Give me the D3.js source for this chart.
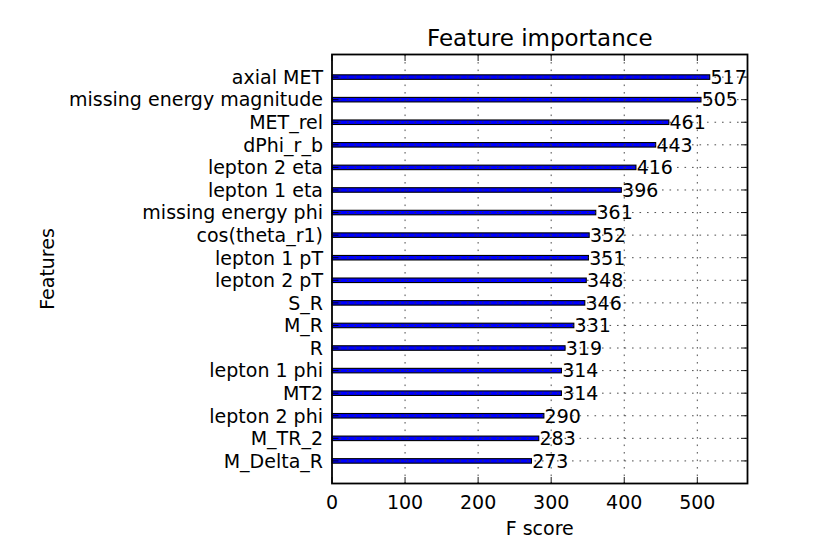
<!DOCTYPE html>
<html><head><meta charset="utf-8">
<script src="https://d3js.org/d3.v7.min.js"></script>
<style>body{margin:0;background:#fff;} text{font-family:"DejaVu Sans",sans-serif;fill:#000;}</style>
</head><body><svg id="c" width="830" height="554"></svg>
<script>
const features = ["axial MET","missing energy magnitude","MET_rel","dPhi_r_b","lepton 2 eta","lepton 1 eta","missing energy phi","cos(theta_r1)","lepton 1 pT","lepton 2 pT","S_R","M_R","R","lepton 1 phi","MT2","lepton 2 phi","M_TR_2","M_Delta_R"];
const scores = [517,505,461,443,416,396,361,352,351,348,346,331,319,314,314,290,283,273];
const xTicks = [0,100,200,300,400,500];
const title = "Feature importance";
const xLabel = "F score";
const yLabel = "Features";

const svg = d3.select("#c");
const L = 332, R = 747.5, T = 54.5, B = 483.5;
const n = features.length;
const x = d3.scaleLinear().domain([0, d3.max(scores) * 1.1]).range([L, R]);
const y = d3.scaleLinear().domain([-1, n]).range([B, T]);
const yi = i => y(n - 1 - i);
const fs = 19;

// bars
const bh = y(0) - y(0.2);
svg.append("g").selectAll("rect").data(scores).join("rect")
  .attr("x", x(0)).attr("y", (d, i) => yi(i) - bh / 2)
  .attr("width", d => x(d) - x(0)).attr("height", bh)
  .attr("fill", "#0000ff").attr("stroke", "#000").attr("stroke-width", 1.1);

// grid
const grid = svg.append("g").attr("stroke", "#3a3a3a").attr("stroke-width", 0.9).attr("stroke-dasharray", "1.6,5.9");
grid.selectAll("line.v").data(xTicks.slice(1)).join("line").attr("class","v")
  .attr("x1", d => x(d)).attr("x2", d => x(d)).attr("y1", T).attr("y2", B);
grid.selectAll("line.h").data(features).join("line").attr("class","h")
  .attr("x1", L).attr("x2", R).attr("y1", (d, i) => yi(i)).attr("y2", (d, i) => yi(i));

// ticks (inward, both sides)
const tk = svg.append("g").attr("stroke", "#000").attr("stroke-width", 0.9);
const tl = 6.5;
xTicks.forEach(t => {
  tk.append("line").attr("x1", x(t)).attr("x2", x(t)).attr("y1", B).attr("y2", B - tl);
  tk.append("line").attr("x1", x(t)).attr("x2", x(t)).attr("y1", T).attr("y2", T + tl);
});
features.forEach((f, i) => {
  tk.append("line").attr("x1", L).attr("x2", L + tl).attr("y1", yi(i)).attr("y2", yi(i));
  tk.append("line").attr("x1", R).attr("x2", R - tl).attr("y1", yi(i)).attr("y2", yi(i));
});

// value labels
svg.append("g").selectAll("text").data(scores).join("text")
  .attr("x", d => x(d + 1)).attr("y", (d, i) => yi(i))
  .attr("dy", "0.36em").attr("font-size", fs).text(d => d);

// frame
svg.append("rect").attr("x", L).attr("y", T).attr("width", R - L).attr("height", B - T)
  .attr("fill", "none").attr("stroke", "#000").attr("stroke-width", 1.8);

// tick labels
svg.append("g").selectAll("text").data(xTicks).join("text")
  .attr("x", d => x(d)).attr("y", B + 25).attr("text-anchor", "middle")
  .attr("font-size", fs).text(d => d);
svg.append("g").selectAll("text").data(features).join("text")
  .attr("x", L - 9).attr("y", (d, i) => yi(i)).attr("dy", "0.36em")
  .attr("text-anchor", "end").attr("font-size", fs).text(d => d);

// titles
svg.append("text").attr("x", (L + R) / 2).attr("y", 46).attr("text-anchor", "middle")
  .attr("font-size", 23).text(title);
svg.append("text").attr("x", (L + R) / 2).attr("y", 535).attr("text-anchor", "middle")
  .attr("font-size", fs).text(xLabel);
svg.append("text").attr("transform", `translate(54,${(T + B) / 2}) rotate(-90)`)
  .attr("text-anchor", "middle").attr("font-size", fs).text(yLabel);
</script></body></html>
